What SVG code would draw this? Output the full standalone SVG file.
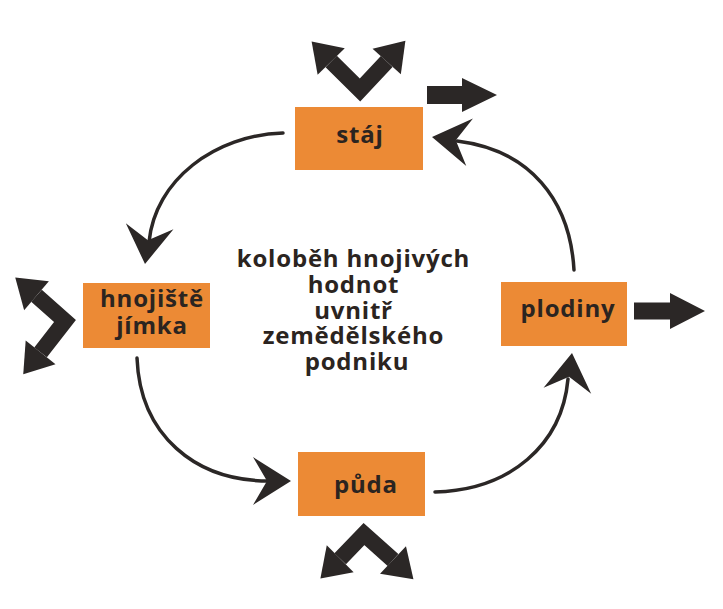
<svg xmlns="http://www.w3.org/2000/svg" width="723" height="609" viewBox="0 0 723 609">
  <style>
    .box { fill: #EC8A35; }
    .lbl { font-family: "Open Sans", "Liberation Sans", sans-serif; font-weight: bold; font-size: 24px; fill: #2b2420; text-anchor: middle; letter-spacing: 0.8px; }
    .arc { fill: none; stroke: #2b2726; stroke-width: 3.5; stroke-linecap: round; }
    .fat { fill: none; stroke: #2b2726; stroke-width: 16; stroke-linejoin: miter; stroke-miterlimit: 6; }
    .dk { fill: #2b2726; }
  </style>
  <defs>
    <path id="dart" d="M0,0 L-38,-24 L-24,0 L-38,24 Z"/>
    <path id="bh" d="M0,-19 L28,0 L0,19 Z"/>
  </defs>
  <rect width="723" height="609" fill="#ffffff"/>

  <g id="connectors">
    <!-- cycle arcs -->
    <path class="arc" d="M283,133 C215,135 155,180 149,242"/>
    <use href="#dart" class="dk" transform="translate(145,264) rotate(97)"/>
    <path class="arc" d="M137,358 C140,435 195,481 269,481"/>
    <use href="#dart" class="dk" transform="translate(291,481) rotate(0)"/>
    <path class="arc" d="M435,492 C510,490 562,445 568,379"/>
    <use href="#dart" class="dk" transform="translate(572,353) rotate(-83)"/>
    <path class="arc" d="M574,270 C570,200 530,150 457,141"/>
    <use href="#dart" class="dk" transform="translate(432,137) rotate(188)"/>

    <!-- block arrows -->
    <path class="fat" d="M331.2,61.5 L360,90 L386.7,61.5"/>
    <use href="#bh" class="dk" transform="translate(331.2,61.5) rotate(-134.4)"/>
    <use href="#bh" class="dk" transform="translate(386.7,61.5) rotate(-48.1)"/>
    <polygon class="dk" points="427,86 462,86 462,78 497,95 462,112 462,104 427,104"/>

    <path class="fat" d="M36.5,295.8 L65,321 L40.6,352.4"/>
    <use href="#bh" class="dk" transform="translate(36.5,295.8) rotate(-139.4)"/>
    <use href="#bh" class="dk" transform="translate(40.6,352.4) rotate(128.3)"/>

    <polygon class="dk" points="634,302.5 670,302.5 670,293 705,311 670,329 670,319.5 634,319.5"/>

    <path class="fat" d="M340.2,558.8 L364,534 L393,560"/>
    <use href="#bh" class="dk" transform="translate(340.2,558.8) rotate(135)"/>
    <use href="#bh" class="dk" transform="translate(393,560) rotate(43.1)"/>
  </g>

  <g id="staj">
    <rect class="box" x="295" y="107" width="128" height="63"/>
    <text class="lbl" x="360" y="143">stáj</text>
  </g>
  <g id="hnojiste">
    <rect class="box" x="83" y="283" width="127" height="65"/>
    <text class="lbl" x="152" y="307">hnojiště</text>
    <text class="lbl" x="152" y="334">jímka</text>
  </g>
  <g id="puda">
    <rect class="box" x="298" y="452" width="127" height="64"/>
    <text class="lbl" x="366" y="493">půda</text>
  </g>
  <g id="plodiny">
    <rect class="box" x="501" y="282" width="126" height="64"/>
    <text class="lbl" x="568" y="317">plodiny</text>
  </g>
  <g id="center">
    <text class="lbl">
      <tspan x="357" y="267">koloběh hnojivých</tspan>
      <tspan x="357" y="293">hodnot</tspan>
      <tspan x="357" y="319">uvnitř</tspan>
      <tspan x="357" y="344">zemědělského</tspan>
      <tspan x="357" y="370">podniku</tspan>
    </text>
  </g>
</svg>
